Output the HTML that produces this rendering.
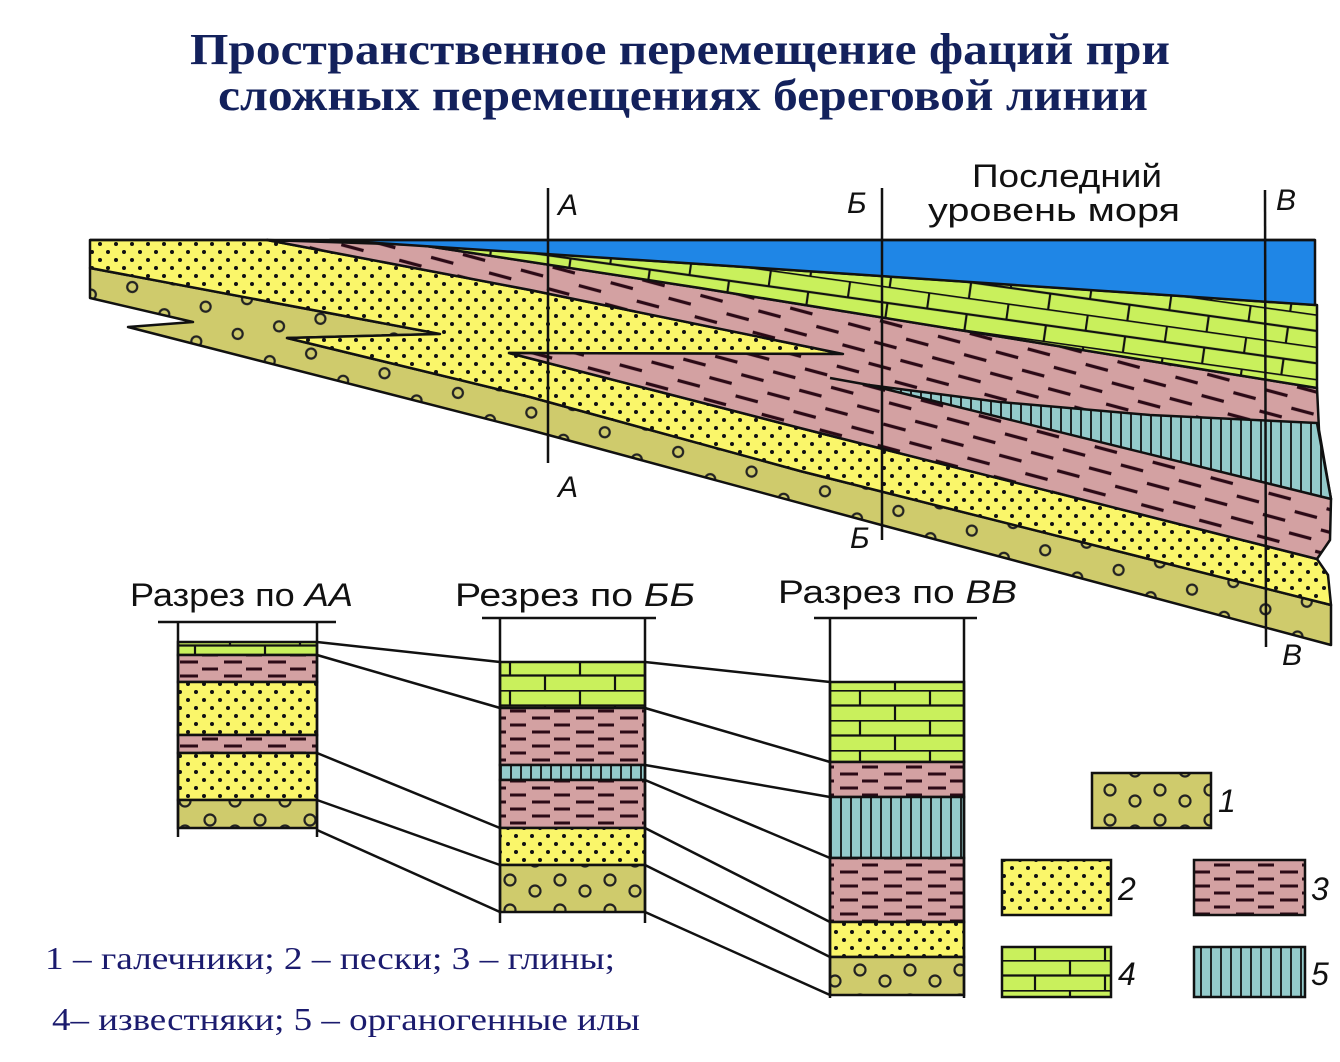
<!DOCTYPE html>
<html><head><meta charset="utf-8"><style>
html,body{margin:0;padding:0;background:#fff;}
svg{display:block;}
</style></head><body>
<svg width="1340" height="1062" viewBox="0 0 1340 1062" xmlns="http://www.w3.org/2000/svg">
<defs>
<pattern id="sand" width="16" height="16" patternUnits="userSpaceOnUse">
<rect width="16" height="16" fill="#faf66a"/>
<circle cx="4" cy="4" r="2" fill="#111"/><circle cx="12" cy="12" r="2" fill="#111"/>
</pattern>
<pattern id="peb" width="76" height="36" patternUnits="userSpaceOnUse" patternTransform="rotate(15)">
<rect width="76" height="36" fill="#cfcb6c"/>
<circle cx="12" cy="9" r="5" fill="none" stroke="#222" stroke-width="2.2"/>
<circle cx="50" cy="27" r="5" fill="none" stroke="#222" stroke-width="2.2"/>
</pattern>
<pattern id="peb0" width="50" height="30" patternUnits="userSpaceOnUse">
<rect width="50" height="30" fill="#cfcb6c"/>
<circle cx="10" cy="10" r="5.5" fill="none" stroke="#222" stroke-width="2.2"/>
<circle cx="35" cy="21" r="5.5" fill="none" stroke="#222" stroke-width="2.2"/>
</pattern>
<pattern id="clay" width="60" height="22" patternUnits="userSpaceOnUse" patternTransform="rotate(15)">
<rect width="60" height="22" fill="#d3a1a2"/>
<line x1="3" y1="5" x2="26" y2="5" stroke="#2b0a16" stroke-width="3.2"/>
<line x1="33" y1="16" x2="56" y2="16" stroke="#2b0a16" stroke-width="3.2"/>
</pattern>
<pattern id="clay0" width="44" height="14" patternUnits="userSpaceOnUse">
<rect width="44" height="14" fill="#d3a1a2"/>
<line x1="4" y1="4" x2="22" y2="4" stroke="#2b0a16" stroke-width="3"/>
<line x1="26" y1="11" x2="42" y2="11" stroke="#2b0a16" stroke-width="3"/>
</pattern>
<pattern id="lime" width="80" height="32" patternUnits="userSpaceOnUse" patternTransform="rotate(8)">
<rect width="80" height="32" fill="#c9f05c"/>
<line x1="0" y1="0.5" x2="80" y2="0.5" stroke="#111" stroke-width="2.2"/>
<line x1="0" y1="16.5" x2="80" y2="16.5" stroke="#111" stroke-width="2.2"/>
<line x1="1" y1="0" x2="1" y2="16" stroke="#111" stroke-width="2.2"/>
<line x1="41" y1="16" x2="41" y2="32" stroke="#111" stroke-width="2.2"/>
</pattern>
<pattern id="lime0" width="70" height="30" patternUnits="userSpaceOnUse">
<rect width="70" height="30" fill="#c9f05c"/>
<line x1="0" y1="0.5" x2="70" y2="0.5" stroke="#111" stroke-width="2.2"/>
<line x1="0" y1="15.5" x2="70" y2="15.5" stroke="#111" stroke-width="2.2"/>
<line x1="20" y1="0" x2="20" y2="15" stroke="#111" stroke-width="2.2"/>
<line x1="55" y1="15" x2="55" y2="30" stroke="#111" stroke-width="2.2"/>
</pattern>
<pattern id="teal" width="10" height="10" patternUnits="userSpaceOnUse">
<rect width="10" height="10" fill="#94cbcb"/>
<line x1="1" y1="0" x2="1" y2="10" stroke="#111" stroke-width="1.8"/>
</pattern>
</defs>

<g font-family="'Liberation Serif','Noto Serif CJK SC',serif" font-weight="bold" font-size="44" fill="#13215c">
<text x="190" y="64" textLength="980" lengthAdjust="spacingAndGlyphs">Пространственное перемещение фаций при</text>
<text x="218" y="110" textLength="930" lengthAdjust="spacingAndGlyphs">сложных перемещениях береговой линии</text>
</g>

<g stroke="#111" stroke-width="2.5" stroke-linejoin="round">
<polygon fill="url(#peb)" points="90,268 440,334 287,338 530,397 800,471 1331,605 1331,645 885,526 530,430 128,327 193,322 90,298"/>
<polygon fill="url(#sand)" points="90,240 267,240 530,290 843,354 509,353 800,428 1317,559 1328,575 1331,605 800,471 530,397 287,338 440,334 90,268"/>
<polygon fill="url(#clay)" points="267,240 420,245 700,288 1317,388 1319,430 1331,499 1330,540 1317,559 800,428 509,353 843,354 530,290"/>
<polygon fill="url(#teal)" points="869,385 1000,402 1150,415 1317,423 1331,499"/>
<polygon fill="url(#lime)" points="420,245 700,264 1317,305 1317,388 700,288"/>
<polygon fill="#1f86e6" points="330,240 1315,240 1315,305 700,264"/>
<line x1="90" y1="240" x2="1315" y2="240"/>
<line x1="869" y1="385" x2="830" y2="378"/>
</g>

<g stroke="#111" stroke-width="2.5">
<line x1="548" y1="188" x2="548" y2="463"/>
<line x1="882" y1="188" x2="882" y2="540"/>
<line x1="1265" y1="190" x2="1266" y2="647"/>
</g>
<g font-family="'Liberation Sans',sans-serif" font-style="italic" font-size="30" fill="#111">
<text x="558" y="215">А</text>
<text x="558" y="497">А</text>
<text x="847" y="213">Б</text>
<text x="850" y="548">Б</text>
<text x="1276" y="210">В</text>
<text x="1282" y="665">В</text>
</g>
<g font-family="'Liberation Sans',sans-serif" font-size="32" fill="#111">
<text x="972" y="187" textLength="190" lengthAdjust="spacingAndGlyphs">Последний</text>
<text x="928" y="221" textLength="252" lengthAdjust="spacingAndGlyphs">уровень моря</text>
<text x="130" y="606" textLength="223" lengthAdjust="spacingAndGlyphs">Разрез по <tspan font-style="italic">АА</tspan></text>
<text x="455" y="606" textLength="240" lengthAdjust="spacingAndGlyphs">Резрез по <tspan font-style="italic">ББ</tspan></text>
<text x="778" y="603" textLength="239" lengthAdjust="spacingAndGlyphs">Разрез по <tspan font-style="italic">ВВ</tspan></text>
</g>

<g stroke="#111" stroke-width="2.5">
<rect x="178" y="642" width="139" height="13" fill="url(#lime0)"/>
<rect x="178" y="655" width="139" height="27" fill="url(#clay0)"/>
<rect x="178" y="682" width="139" height="53" fill="url(#sand)"/>
<rect x="178" y="735" width="139" height="18" fill="url(#clay0)"/>
<rect x="178" y="753" width="139" height="47" fill="url(#sand)"/>
<rect x="178" y="800" width="139" height="28" fill="url(#peb0)"/>
<line x1="158" y1="622" x2="336" y2="622"/>
<line x1="178" y1="622" x2="178" y2="837"/>
<line x1="317" y1="622" x2="317" y2="837"/>
<rect x="500" y="662" width="145" height="46" fill="url(#lime0)"/>
<rect x="500" y="708" width="145" height="57" fill="url(#clay0)"/>
<rect x="500" y="765" width="145" height="15" fill="url(#teal)"/>
<rect x="500" y="780" width="145" height="48" fill="url(#clay0)"/>
<rect x="500" y="828" width="145" height="37" fill="url(#sand)"/>
<rect x="500" y="865" width="145" height="47" fill="url(#peb0)"/>
<line x1="482" y1="618" x2="656" y2="618"/>
<line x1="500" y1="618" x2="500" y2="923"/>
<line x1="645" y1="618" x2="645" y2="923"/>
<rect x="830" y="682" width="134" height="80" fill="url(#lime0)"/>
<rect x="830" y="762" width="134" height="35" fill="url(#clay0)"/>
<rect x="830" y="797" width="134" height="61" fill="url(#teal)"/>
<rect x="830" y="858" width="134" height="64" fill="url(#clay0)"/>
<rect x="830" y="922" width="134" height="35" fill="url(#sand)"/>
<rect x="830" y="957" width="134" height="38" fill="url(#peb0)"/>
<line x1="814" y1="618" x2="977" y2="618"/>
<line x1="830" y1="618" x2="830" y2="998"/>
<line x1="964" y1="618" x2="964" y2="998"/>
<line x1="317" y1="642" x2="500" y2="662"/>
<line x1="317" y1="655" x2="500" y2="708"/>
<line x1="317" y1="753" x2="500" y2="828"/>
<line x1="317" y1="800" x2="500" y2="865"/>
<line x1="317" y1="830" x2="500" y2="912"/>
<line x1="645" y1="662" x2="830" y2="682"/>
<line x1="645" y1="708" x2="830" y2="762"/>
<line x1="645" y1="765" x2="830" y2="797"/>
<line x1="645" y1="780" x2="830" y2="858"/>
<line x1="645" y1="828" x2="830" y2="922"/>
<line x1="645" y1="865" x2="830" y2="957"/>
<line x1="645" y1="912" x2="830" y2="995"/>
<rect x="1092" y="773" width="119" height="55" fill="url(#peb0)"/>
<rect x="1002" y="860" width="109" height="55" fill="url(#sand)"/>
<rect x="1194" y="860" width="111" height="55" fill="url(#clay0)"/>
<rect x="1002" y="947" width="109" height="50" fill="url(#lime0)"/>
<rect x="1194" y="947" width="111" height="50" fill="url(#teal)"/>
</g>
<g font-family="'Liberation Sans',sans-serif" font-style="italic" font-size="32" fill="#111">
<text x="1218" y="812">1</text>
<text x="1118" y="900">2</text>
<text x="1311" y="900">3</text>
<text x="1118" y="985">4</text>
<text x="1311" y="985">5</text>
</g>

<g font-family="'Liberation Serif',serif" font-size="32" fill="#1b1b6e">
<text x="45" y="969" textLength="570" lengthAdjust="spacingAndGlyphs">1 – галечники; 2 – пески; 3 – глины;</text>
<text x="52" y="1030" textLength="588" lengthAdjust="spacingAndGlyphs">4– известняки; 5 – органогенные илы</text>
</g>
</svg>
</body></html>
